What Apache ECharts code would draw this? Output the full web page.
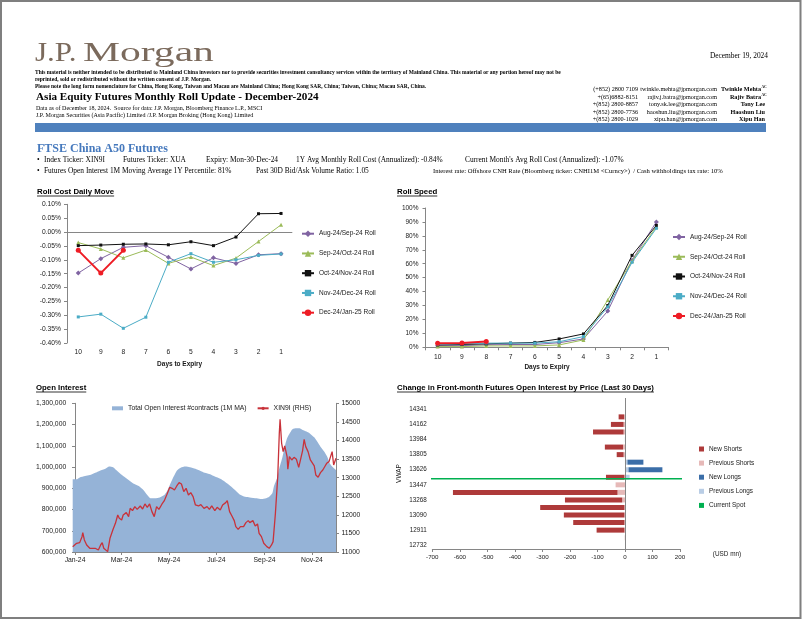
<!DOCTYPE html>
<html><head><meta charset="utf-8">
<script src="https://cdn.jsdelivr.net/npm/echarts@6/dist/echarts.min.js"></script>
<style>html,body{margin:0;padding:0;background:#fff}#c{width:802px;height:620px}</style>
</head><body><div id="c"></div>
<script>
// ---------- DATA ----------
const days = ['10','9','8','7','6','5','4','3','2','1'];
const rollNames = ['Aug-24/Sep-24 Roll','Sep-24/Oct-24 Roll','Oct-24/Nov-24 Roll','Nov-24/Dec-24 Roll','Dec-24/Jan-25 Roll'];
// Roll cost daily move (%)
const costAug = [-0.148,-0.096,-0.055,-0.049,-0.091,-0.133,-0.093,-0.113,-0.082,-0.078];
const costSep = [-0.038,-0.061,-0.093,-0.065,-0.113,-0.090,-0.121,-0.094,-0.034,0.026];
const costOct = [-0.049,-0.047,-0.044,-0.043,-0.046,-0.035,-0.049,-0.018,0.066,0.067];
const costNov = [-0.306,-0.296,-0.347,-0.307,-0.109,-0.078,-0.109,-0.100,-0.084,-0.079];
const costDec = [-0.066,-0.148,-0.066];
// Roll speed (%)
const speedAug = [1.2,1.2,1.8,2,2,3.3,6,26,62.5,90];
const speedSep = [0.5,0.5,1,1,1,1.7,5.3,34,62,86.5];
const speedOct = [1.7,2,2.5,3,3.5,6,9.6,30,66,87.5];
const speedNov = [2.2,2.5,3,3,3,4,7.7,29,61,85.4];
const speedDec = [2.9,3.1,4.1];
// Open interest (days since 1-Jan-24)
const oiTickDays = [0,60,121,182,244,305];
const oiTickLabels = ['Jan-24','Mar-24','May-24','Jul-24','Sep-24','Nov-24'];
const oiDays = [-3,2,6,13,19,26,32,39,44,49,53,58,63,69,75,82,88,93,97,103,109,115,119,122,127,131,136,142,148,155,161,167,174,180,187,193,200,206,212,219,225,234,240,246,250,254,256,260,263,267,270,273,277,280,285,289,293,298,303,308,312,316,321,325,328,332,336];
const oiValues = [942000,942000,951000,958000,962000,973000,983000,992000,1002000,999000,986000,970000,955000,939000,923000,911000,892000,868000,853000,853000,857000,868000,889000,915000,955000,983000,997000,1002000,999000,992000,983000,973000,966000,955000,945000,931000,911000,892000,871000,860000,857000,853000,849000,853000,860000,876000,908000,947000,994000,1046000,1096000,1135000,1162000,1178000,1182000,1182000,1174000,1167000,1156000,1140000,1119000,1096000,1072000,1046000,1017000,999000,986000];
const xinDays = [-3,2,6,9,10,12,15,19,26,30,
  33,35,37,42,45,49,52,55,57,60,
  62,66,69,71,74,77,80,84,87,90,
  93,96,99,102,105,108,112,115,118,122,
  125,128,131,134,137,140,143,146,149,152,
  155,159,162,166,170,173,176,180,183,187,
  190,194,196,199,202,205,207,210,213,217,
  220,223,225,229,232,235,237,240,243,247,
  250,253,255,258,261,263,264,266,268,270,
  273,274,276,279,282,285,288,291,293,295,
  297,300,303,305,308,310,313,316,319,322,
  324,327,329,331,333,334,336];
const xinValues = [11144,11234,11252,11413,11521,11324,11189,11100,11100,11055,
  11189,11252,11100,11010,11368,11610,11772,11996,11906,11862,
  11996,12059,11951,12175,12113,12220,12148,12238,12157,12292,
  12202,12292,12086,11951,12220,12148,12292,12382,12534,12740,
  12713,12669,12776,12866,12830,12624,12713,12534,12597,12489,
  12265,12238,12274,12175,12220,12148,12238,12113,12202,12130,
  12265,12328,12382,12086,11969,11844,11682,11610,11682,11682,
  11790,11844,11790,11844,11700,11754,11503,11413,11234,11144,
  11100,11189,11279,12041,13027,14193,14570,13924,13700,13852,
  13565,13225,13565,13476,13547,13494,13278,13547,13727,14032,
  13834,13700,13476,13512,13314,13072,13009,13135,13207,13314,
  13386,13431,13476,13700,13341,13341,13520];
// Change in OI by price (bottom -> top)
const vwapLabels = ['12732','12821','12911','13000','13090','13179','13268','13358','13447','13537','13626','13716','13805','13894','13984','14073','14162','14252','14341','14431'];
const newShorts  = [0,0,-101,-186,-220,-306,-208,-598,0,-67,0,0,-25,-66,0,-111,-46,-20,0,0];
const prevShorts = [0,-1,-2,-2,-2,-2,-10,-27,-34,-2,0,0,-5,-7,0,-5,-5,-3,0,0];
const newLongs   = [0,0,0,0,0,0,0,0,0,0,123,58,0,0,3,0,0,0,0,0];
const prevLongs  = [0,0,0,0,0,0,0,0,0,17,13,9,0,0,0,0,0,0,0,0];
const currentSpot = 13519;
const spotSpan = [-750, 230];

// ---------- STYLE ----------
const SANS = "'Liberation Sans', Arial, sans-serif";
const SERIF = "'Liberation Serif', 'Times New Roman', serif";
const AX = '#868686', LBL = '#1a1a1a';
const rollColors = ['#8064a2','#9bbb59','#111111','#4bacc6','#ee1c25'];
const rollSymbols = ['diamond','triangle','rect','rect','circle'];
const rollSizes = [5,4,3,3,5];

const mctx = document.createElement('canvas').getContext('2d');
function mw(s, font){ mctx.font = font; return mctx.measureText(s).width; }

function txt(x, y, s, size, o) {
  o = o || {};
  const font = (o.bold ? 'bold ' : '') + size + 'px ' + (o.sans ? SANS : SERIF);
  const al = o.align || 'left';
  return {type:'text', x:x, y:y, silent:true, scaleX:o.scaleX||1, z:10,
    style:{text:s, font:font, fill:o.color||'#000', align:al, textAlign:al,
      verticalAlign:'middle', textVerticalAlign:'middle'}};
}
function utitle(x, y, s) {
  const font = 'bold 7.8px ' + SANS;
  const w = mw(s, font);
  return [txt(x, y, s, 7.8, {bold:true, sans:true}),
    {type:'line', silent:true, shape:{x1:x, y1:y+4.5, x2:x+w, y2:y+4.5}, style:{stroke:'#000', lineWidth:0.8}}];
}

const graphics = [
  {type:'rect', silent:true, shape:{x:1, y:1, width:799.5, height:617}, style:{fill:'none', stroke:'#7f7f7f', lineWidth:2}},
  txt(35, 53.5, 'J.P.', 27, {color:'#7b6a5c', scaleX:1.15}),
  txt(83, 53.5, 'Morgan', 27, {color:'#7b6a5c', scaleX:1.54}),
  txt(35, 72.3, 'This material is neither intended to be distributed to Mainland China investors nor to provide securities investment consultancy services within the territory of Mainland China. This material or any portion hereof may not be', 5.5, {bold:true}),
  txt(35, 79.2, 'reprinted, sold or redistributed without the written consent of J.P. Morgan.', 5.5, {bold:true}),
  txt(35, 86.1, 'Please note the long form nomenclature for China, Hong Kong, Taiwan and Macau are Mainland China; Hong Kong SAR, China; Taiwan, China; Macau SAR, China.', 5.5, {bold:true}),
  txt(36, 97.5, 'Asia Equity Futures Monthly Roll Update - December-2024', 11.15, {bold:true}),
  txt(36, 108, 'Data as of December 18, 2024.  Source for data: J.P. Morgan, Bloomberg Finance L.P., MSCI', 6.05),
  txt(36, 115.5, 'J.P. Morgan Securities (Asia Pacific) Limited /J.P. Morgan Broking (Hong Kong) Limited', 6.05),
  txt(768, 56, 'December 19, 2024', 7.4, {align:'right'}),
  {type:'rect', silent:true, shape:{x:35, y:123, width:731, height:9}, style:{fill:'#4f81bd'}},
  txt(37, 148.5, 'FTSE China A50 Futures', 12, {bold:true, color:'#4679bd'}),
  txt(37, 160, '\u2022', 7.4), txt(44, 160, 'Index Ticker: XIN9I', 7.4),
  txt(123, 160, 'Futures Ticker: XUA', 7.4), txt(206, 160, 'Expiry: Mon-30-Dec-24', 7.4),
  txt(296, 160, '1Y Avg Monthly Roll Cost (Annualized): -0.84%', 7.4),
  txt(465, 160, "Current Month's Avg Roll Cost (Annualized): -1.07%", 7.4),
  txt(37, 171, '\u2022', 7.4), txt(44, 171, 'Futures Open Interest 1M Moving Average 1Y Percentile: 81%', 7.4),
  txt(256, 171, 'Past 30D Bid/Ask Volume Ratio: 1.05', 7.4),
  txt(433, 171, 'Interest rate: Offshore CNH Rate (Bloomberg ticker: CNHI1M <Curncy>)  / Cash withholdings tax rate: 10%', 6.6),
  txt(727, 554.5, '(USD mn)', 6.4, {sans:true, align:'center', color:LBL})
];
const phones = ['(+852) 2800 7109','+(65)6882-8151','+(852) 2800-8857','+(852) 2800-7736','+(852) 2800-1029'];
const emails = ['twinkle.mehta@jpmorgan.com','rajiv.j.batra@jpmorgan.com','tony.sk.lee@jpmorgan.com','haoshun.liu@jpmorgan.com','xipu.han@jpmorgan.com'];
const names = ['Twinkle Mehta','Rajiv Batra','Tony Lee','Haoshun Liu','Xipu Han'];
const ac = [true,true,false,false,false];
const rowY = [89.5,97,104.5,112,119.5];
for (let i=0;i<5;i++){
  graphics.push(txt(638, rowY[i], phones[i], 6.2, {align:'right'}));
  graphics.push(txt(717, rowY[i], emails[i], 6.2, {align:'right'}));
  graphics.push(txt(ac[i]?761:765, rowY[i], names[i], 6.2, {align:'right', bold:true}));
  if (ac[i]) graphics.push(txt(761.5, rowY[i]-2.2, 'AC', 3.6, {bold:true}));
}
graphics.push(...utitle(37, 191.5, 'Roll Cost Daily Move'));
graphics.push(...utitle(397, 191.5, 'Roll Speed'));
graphics.push(...utitle(36, 387.5, 'Open Interest'));
graphics.push(...utitle(397, 387.5, 'Change in Front-month Futures Open Interest by Price (Last 30 Days)'));

const lbl = (size, extra) => Object.assign({color:LBL, fontFamily:SANS, fontSize:size}, extra||{});
const axLine = {show:true, lineStyle:{color:AX, width:1}};
const axTick = {show:true, length:3, lineStyle:{color:AX}};

function rollSeries(arrs, xi, yi, zeroLine) {
  return arrs.map((d,i)=>({
    name: rollNames[i], type:'line', xAxisIndex:xi, yAxisIndex:yi, data:d,
    symbol: rollSymbols[i], symbolSize: rollSizes[i], showSymbol:true,
    lineStyle:{color:rollColors[i], width: i===4?2:1}, itemStyle:{color:rollColors[i]},
    z: 3+i,
    markLine: (zeroLine && i===0) ? {silent:true, symbol:'none', label:{show:false}, animation:false,
      lineStyle:{color:AX, width:1, type:'solid'}, data:[{yAxis:0}]} : undefined
  }));
}

const option = {
  animation:false,
  backgroundColor:'#fff',
  textStyle:{fontFamily:SANS},
  graphic: graphics,
  grid: [
    {left:67, top:204.3, width:225.3, height:138.7},
    {left:425.5, top:208, width:243, height:139.3},
    {left:72.7, top:403.3, width:263.3, height:148.7},
    {left:432.3, top:398, width:247.7, height:151}
  ],
  legend: [
    {orient:'vertical', left:296, top:224.7, itemWidth:12, itemHeight:8, itemGap:11.75, data:rollNames,
      textStyle:lbl(6.5,{lineHeight:8}), selectedMode:false},
    {orient:'vertical', left:667, top:228, itemWidth:12, itemHeight:8, itemGap:11.75, data:rollNames,
      textStyle:lbl(6.5,{lineHeight:8}), selectedMode:false},
    {orient:'horizontal', left:107, top:399.3, itemWidth:11, itemHeight:4, itemGap:10,
      data:[{name:'Total Open Interest #contracts (1M MA)', icon:'rect'}, {name:'XIN9I (RHS)'}],
      textStyle:lbl(6.8,{lineHeight:8}), selectedMode:false},
    {orient:'vertical', left:694, top:440, itemWidth:5, itemHeight:5, itemGap:6.1,
      data:['New Shorts','Previous Shorts','New Longs','Previous Longs','Current Spot'].map(n=>({name:n, icon:'rect'})),
      textStyle:lbl(6.4,{lineHeight:8}), selectedMode:false}
  ],
  xAxis: [
    {type:'category', gridIndex:0, data:days, axisLine:{show:false, onZero:false}, axisTick:{show:false},
      axisLabel:lbl(6.7,{margin:5.5}), splitLine:{show:false},
      name:'Days to Expiry', nameLocation:'middle', nameGap:17.5, nameTextStyle:lbl(6.5,{fontWeight:'bold'})},
    {type:'category', gridIndex:1, data:days, axisLine:axLine, axisTick:axTick,
      axisLabel:lbl(6.7,{margin:6}), splitLine:{show:false},
      name:'Days to Expiry', nameLocation:'middle', nameGap:16, nameTextStyle:lbl(6.5,{fontWeight:'bold'})},
    {type:'value', gridIndex:2, min:-3, max:336, axisLine:Object.assign({onZero:false}, axLine),
      axisTick:Object.assign({customValues:oiTickDays}, axTick),
      axisLabel:lbl(6.8,{margin:4.5, customValues:oiTickDays, formatter:v=>oiTickLabels[oiTickDays.indexOf(v)]||''}),
      splitLine:{show:false}},
    {type:'value', gridIndex:3, min:-700, max:200, interval:100, axisLine:Object.assign({onZero:false}, axLine), axisTick:axTick,
      axisLabel:lbl(6.2,{margin:5.5}), splitLine:{show:false}}
  ],
  yAxis: [
    {type:'value', gridIndex:0, min:-0.4, max:0.1, interval:0.05, axisLine:axLine, axisTick:axTick,
      axisLabel:lbl(6.7,{margin:6, formatter:v=>v.toFixed(2)+'%'}), splitLine:{show:false}},
    {type:'value', gridIndex:1, min:0, max:100, interval:10, axisLine:axLine, axisTick:axTick,
      axisLabel:lbl(6.5,{margin:7, formatter:v=>Math.round(v)+'%'}), splitLine:{show:false}},
    {type:'value', gridIndex:2, position:'left', min:600000, max:1300000, interval:100000, axisLine:axLine, axisTick:axTick,
      axisLabel:lbl(6.8,{margin:6.5, formatter:v=>v.toLocaleString('en-US')}), splitLine:{show:false}},
    {type:'value', gridIndex:2, position:'right', min:11000, max:15000, interval:500, axisLine:axLine, axisTick:axTick,
      axisLabel:lbl(6.8,{margin:5.5, formatter:v=>String(Math.round(v))}), splitLine:{show:false}},
    {type:'category', gridIndex:3, data:vwapLabels, axisLine:{show:false, onZero:false}, axisTick:{show:false},
      axisLabel:lbl(6.3,{margin:5.6, interval:1}), splitLine:{show:false},
      name:'VWAP', nameLocation:'middle', nameRotate:90, nameGap:30, nameTextStyle:lbl(6.5)},
    {type:'value', gridIndex:3, show:false, min:12687.3, max:14475.1, splitLine:{show:false}}
  ],
  series: [
    ...rollSeries([costAug,costSep,costOct,costNov,costDec], 0, 0, true),
    ...rollSeries([speedAug,speedSep,speedOct,speedNov,speedDec], 1, 1, false),
    {name:'Total Open Interest #contracts (1M MA)', type:'line', xAxisIndex:2, yAxisIndex:2,
      data: oiDays.map((d,i)=>[d, oiValues[i]]), showSymbol:false, symbol:'none', smooth:0.2,
      lineStyle:{width:0, color:'#95b3d7'}, itemStyle:{color:'#95b3d7'},
      areaStyle:{color:'#95b3d7', opacity:1, origin:'start'}, z:1},
    {name:'XIN9I (RHS)', type:'line', xAxisIndex:2, yAxisIndex:3,
      data: xinDays.map((d,i)=>[d, xinValues[i]]), showSymbol:false, symbol:'none',
      lineStyle:{width:1.3, color:'#c8323a'}, itemStyle:{color:'#c8323a'}, z:3},
    {name:'Previous Shorts', type:'bar', xAxisIndex:3, yAxisIndex:4, stack:'short', data:prevShorts,
      barWidth:5, itemStyle:{color:'#e6b9b8'},
      markLine:{silent:true, symbol:'none', label:{show:false}, animation:false,
        lineStyle:{color:AX, width:1, type:'solid'}, data:[{xAxis:0}]}},
    {name:'New Shorts', type:'bar', xAxisIndex:3, yAxisIndex:4, stack:'short', data:newShorts,
      barWidth:5, itemStyle:{color:'#ae3a3a'}},
    {name:'Previous Longs', type:'bar', xAxisIndex:3, yAxisIndex:4, stack:'long', data:prevLongs,
      barWidth:5, barGap:'-100%', itemStyle:{color:'#b9cde5'}},
    {name:'New Longs', type:'bar', xAxisIndex:3, yAxisIndex:4, stack:'long', data:newLongs,
      barWidth:5, barGap:'-100%', itemStyle:{color:'#3b6ea8'}},
    {name:'Current Spot', type:'line', xAxisIndex:3, yAxisIndex:5, clip:false,
      data:[[spotSpan[0], currentSpot],[spotSpan[1], currentSpot]], symbol:'none', showSymbol:false,
      lineStyle:{color:'#00b050', width:1.5}, itemStyle:{color:'#00b050'}, z:5}
  ]
};
const chart = echarts.init(document.getElementById('c'));
chart.setOption(option);
</script>
</body></html>
